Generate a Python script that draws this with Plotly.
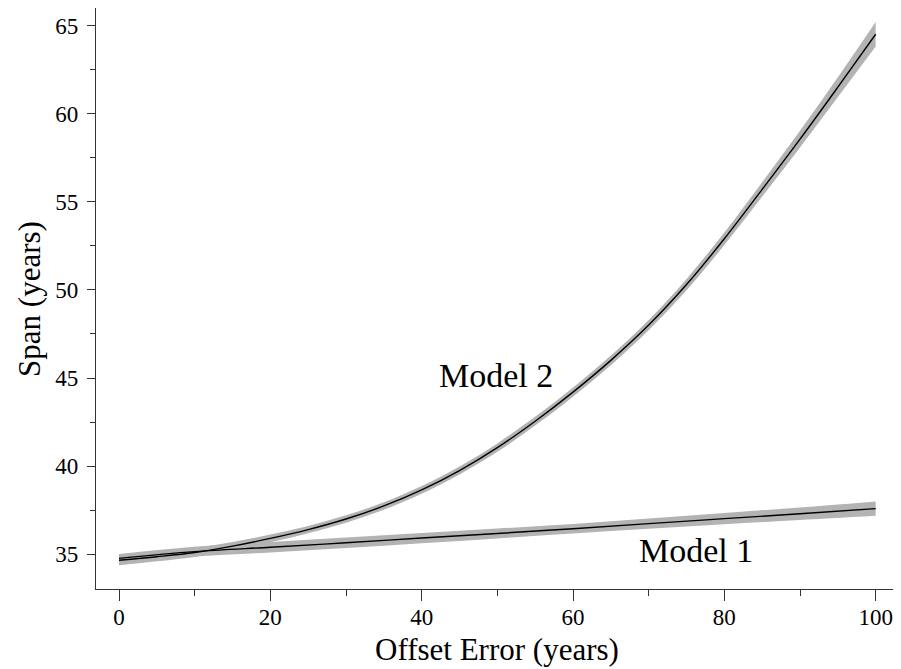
import plotly.graph_objects as go

# ---- data ----
x_m2 = [0, 5, 10, 15, 20, 25, 30, 35, 40, 45, 50, 55, 60, 65, 70, 75, 80, 85, 90, 95, 100]
y_m2 = [34.66, 34.86, 35.10, 35.46, 35.90, 36.40, 37.00, 37.74, 38.65, 39.75, 41.05,
        42.55, 44.20, 46.00, 48.00, 50.30, 52.90, 55.70, 58.55, 61.50, 64.50]
hw_m2 = [0.28, 0.26, 0.25, 0.23, 0.22, 0.21, 0.21, 0.21, 0.22, 0.23, 0.24, 0.25,
         0.26, 0.27, 0.29, 0.32, 0.36, 0.41, 0.47, 0.56, 0.69]

x_m1 = [0, 10, 20, 30, 40, 50, 60, 70, 80, 90, 100]
y_m1 = [34.77, 35.15, 35.40, 35.65, 35.92, 36.18, 36.45, 36.74, 37.02, 37.30, 37.59]
hw_m1 = [0.25, 0.28, 0.30, 0.30, 0.29, 0.28, 0.27, 0.29, 0.32, 0.36, 0.41]

x_ticks = [0, 20, 40, 60, 80, 100]
y_ticks = [35, 40, 45, 50, 55, 60, 65]

labels = ["Model 2", "Model 1"]
label_x = [49.8, 76.2]
label_y = [45.17, 35.24]

FONT = "Liberation Serif"
BAND = "#b3b3b3"

fig = go.Figure()

def add_band(xs, ys, hw):
    up = [y + h for y, h in zip(ys, hw)]
    lo = [y - h for y, h in zip(ys, hw)]
    fig.add_trace(go.Scatter(x=xs, y=lo, mode="lines", line=dict(width=0, shape="spline"),
                             hoverinfo="skip", showlegend=False))
    fig.add_trace(go.Scatter(x=xs, y=up, mode="lines", line=dict(width=0, shape="spline"),
                             fill="tonexty", fillcolor=BAND, hoverinfo="skip", showlegend=False))

add_band(x_m1, y_m1, hw_m1)
add_band(x_m2, y_m2, hw_m2)

for xs, ys in [(x_m1, y_m1), (x_m2, y_m2)]:
    fig.add_trace(go.Scatter(x=xs, y=ys, mode="lines",
                             line=dict(color="black", width=1.4, shape="spline"),
                             showlegend=False))

for t, lx, ly in zip(labels, label_x, label_y):
    fig.add_annotation(x=lx, y=ly, text=t, showarrow=False,
                       font=dict(family=FONT, size=34, color="black"),
                       xanchor="center", yanchor="middle")

# axis titles as annotations
fig.add_annotation(xref="paper", yref="paper", x=0.5, y=-0.104, text="Offset Error (years)",
                   showarrow=False, font=dict(family=FONT, size=31, color="black"),
                   xanchor="center", yanchor="middle")
fig.add_annotation(xref="paper", yref="paper", x=-0.083, y=0.5, text="Span (years)",
                   showarrow=False, textangle=-90, font=dict(family=FONT, size=31, color="black"),
                   xanchor="center", yanchor="middle")

axis_common = dict(showgrid=False, zeroline=False, showline=True, mirror=True,
                   linecolor="#333333", linewidth=1.3, ticks="outside",
                   tickcolor="#333333", tickwidth=1.3,
                   tickfont=dict(family=FONT, size=23, color="black"))

fig.update_xaxes(range=[-3.04, 102.95], tickmode="array", tickvals=x_ticks,
                 ticktext=[str(v) for v in x_ticks], ticklen=11, ticklabelstandoff=-4,
                 minor=dict(dtick=10, tick0=0, ticklen=6, ticks="outside",
                            tickcolor="#333333", tickwidth=1.3),
                 **axis_common)
fig.update_yaxes(range=[33.03, 65.99], tickmode="array", tickvals=y_ticks,
                 ticktext=[str(v) for v in y_ticks], ticklen=8, ticklabelstandoff=4,
                 minor=dict(dtick=2.5, tick0=0, ticklen=5, ticks="outside",
                            tickcolor="#333333", tickwidth=1.3),
                 **axis_common)

# page body has an 8px margin, so the figure is sized/offset to land the plot box where the reference has it
fig.update_layout(width=893, height=661, margin=dict(l=88, r=3, t=0, b=80, autoexpand=False),
                  plot_bgcolor="white", paper_bgcolor="white", showlegend=False,
                  font=dict(family=FONT))

fig.write_html("out.html")
